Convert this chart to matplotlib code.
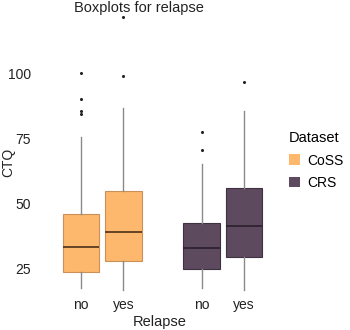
import matplotlib.pyplot as plt
from matplotlib.patches import Patch

plt.rcParams['font.family'] = ['Liberation Sans', 'DejaVu Sans']

datasets = ["CoSS", "CRS"]
relapse = ["no", "yes"]
fill_colors = ["#FDB86D", "#5E4A5F"]
edge_colors = ["#C9905A", "#3F3142"]
median_colors = ["#5A3A1E", "#2E2230"]

# five-number summaries, order: CoSS no, CoSS yes, CRS no, CRS yes
whislo = [17.3, 16.7, 17.3, 16.7]
q1 = [23.7, 27.8, 24.8, 29.5]
med = [33.3, 38.8, 32.7, 41.4]
q3 = [45.8, 54.7, 42.5, 55.8]
whishi = [75.6, 86.9, 65.0, 85.5]
fliers = [[100.2, 90.2, 85.5, 84.3], [99.2, 121.8], [77.3, 70.6], [96.8]]

positions = [0, 1, 2.85, 3.85]

fig = plt.figure(figsize=(3.5, 3.3), dpi=100)
ax = fig.add_axes([0.1286, 0.1152, 0.643, 0.848])

stats = []
for i in range(4):
    stats.append({"whislo": whislo[i], "q1": q1[i], "med": med[i], "q3": q3[i],
                  "whishi": whishi[i], "fliers": fliers[i]})

for i, st in enumerate(stats):
    g = i // 2
    ax.bxp([st], positions=[positions[i]], widths=0.86, patch_artist=True,
           showcaps=False,
           boxprops=dict(facecolor=fill_colors[g], edgecolor=edge_colors[g], linewidth=0.8),
           medianprops=dict(color=median_colors[g], linewidth=1.3),
           whiskerprops=dict(color="#8a8a8a", linewidth=1.0),
           flierprops=dict(marker="o", markersize=1.2, markerfacecolor="#222222",
                           markeredgecolor="#222222", linestyle="none"))

ax.set_xlim(-0.857, 4.47)
ax.set_ylim(15.9, 123.6)
ax.set_xticks(positions)
ax.set_xticklabels(relapse * 2)
ax.set_yticks([25, 50, 75, 100])
ax.tick_params(length=0, labelsize=10, colors="#222222")
ax.tick_params(axis="x", pad=4)
ax.tick_params(axis="y", pad=10)
for s in ax.spines.values():
    s.set_visible(False)

fig.text(8 / 350, 1 - 162 / 330, "CTQ", rotation=90, ha="center", va="center",
         fontsize=10, color="#222222")
fig.text(160 / 350, 1 - 322 / 330, "Relapse", ha="center", va="center",
         fontsize=10.5, color="#222222")
fig.text(139 / 350, 1 - 8 / 330, "Boxplots for relapse", ha="center", va="center",
         fontsize=10.5, color="#222222")

handles = [Patch(facecolor=fill_colors[i], edgecolor="none") for i in range(2)]
leg = fig.legend(handles, datasets, title="Dataset", loc="upper left",
                 bbox_to_anchor=(0.79, 0.64), frameon=False, fontsize=10,
                 title_fontsize=10.5, handlelength=0.8, handleheight=0.8,
                 handletextpad=0.5, labelspacing=0.6)
leg._legend_box.align = "left"

fig.savefig("out.png", dpi=100)
